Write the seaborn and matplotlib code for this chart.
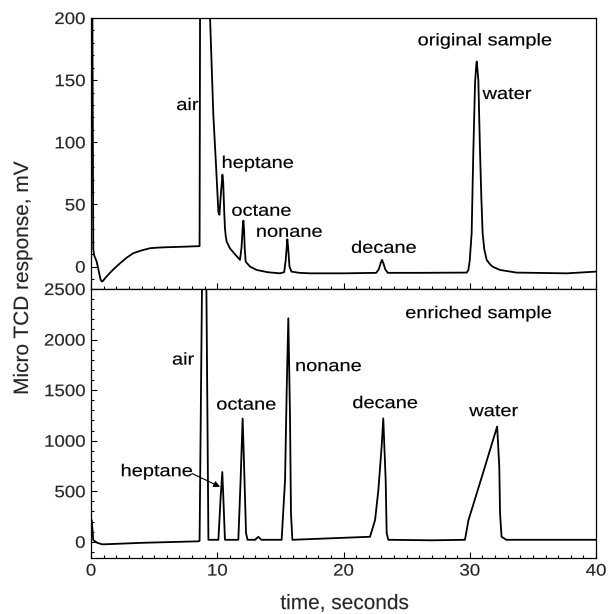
import numpy as np
import pandas as pd
import matplotlib
matplotlib.use("Agg")
import matplotlib.pyplot as plt
import seaborn as sns
from matplotlib.patheffects import AbstractPathEffect
from matplotlib.ticker import MultipleLocator
from matplotlib.transforms import Affine2D

# ---------------------------------------------------------------- data
# original sample trace: time (s) and detector response (mV)
orig_time = [0.10, 0.18, 0.25, 0.45, 0.60, 0.75, 0.85, 0.95, 1.10, 1.50,
             1.90, 2.30, 2.80, 3.35, 4.00, 4.67, 5.30, 6.00, 7.58, 8.60,
             8.65, 9.35, 9.43, 9.69, 9.90, 10.09, 10.17, 10.30, 10.41, 10.47,
             10.55, 10.61, 10.68, 10.75, 11.00, 11.40, 11.80, 11.92, 12.02, 12.07,
             12.12, 12.18, 12.25, 12.60, 13.13, 14.00, 14.97, 15.30, 15.42, 15.55,
             15.62, 15.72, 15.88, 16.50, 17.35, 20.00, 22.60, 22.80, 22.95, 23.05,
             23.15, 23.30, 23.50, 26.00, 29.76, 29.89, 30.00, 30.15, 30.28, 30.42,
             30.50, 30.55, 30.60, 30.68, 30.81, 30.92, 31.02, 31.15, 31.34, 31.60,
             31.80, 32.40, 33.70, 37.70, 40.00]
orig_mv = [230, 14, 9, 4, -3, -10, -12, -11.5, -9.5, -5,
           -1, 2.7, 7, 10.8, 13, 14.8, 15.3, 15.6, 16.1, 16.5,
           260, 260, 200, 122, 82, 44, 41.7, 60, 74, 68,
           45, 31, 24, 20, 14.8, 10, 5.4, 15, 32, 37,
           30, 14, 4, 0, -2.7, -4.5, -5.4, -4.5, 5, 22,
           15, 0, -4, -5, -5.4, -5.4, -5, -2, 3, 5.4,
           3, -2, -5, -5, -4.8, -2.7, 5, 27, 91, 148,
           160, 165, 160, 150, 94, 55, 27, 14, 5.4, 2,
           0, -2.7, -4.8, -5.4, -4]

# enriched sample trace: time (s) and detector response (mV)
enr_time = [0.00, 0.03, 0.10, 0.18, 0.50, 0.90, 2.00, 4.00, 8.50, 8.60,
            8.98, 9.30, 10.09, 10.27, 10.40, 10.48, 10.61, 11.67, 11.85, 12.01,
            12.12, 12.28, 12.40, 13.00, 13.25, 13.50, 15.10, 15.37, 15.50, 15.63,
            15.76, 15.84, 15.95, 22.10, 22.50, 22.76, 23.02, 23.15, 23.34, 23.42,
            23.55, 27.00, 29.62, 29.90, 31.00, 32.17, 32.34, 32.40, 32.52, 32.90,
            40.00]
enr_mv = [20, 220, 150, 17, -10, -25, -20, -10, 5, 10,
          5000, 20, 20, 445, 690, 445, 20, 20, 610, 1220,
          780, 86, 20, 20, 50, 20, 20, 610, 1500, 2210,
          1270, 280, 20, 50, 215, 510, 940, 1220, 610, 86,
          20, 15, 20, 215, 660, 1140, 742, 280, 50, 20,
          20]

# peak labels
orig_labels = ["air", "heptane", "octane", "nonane", "decane", "water"]
enr_labels = ["air", "octane", "nonane", "decane", "water"]

x_ticks = [0, 10, 20, 30, 40]
orig_y_ticks = [0, 50, 100, 150, 200]
enr_y_ticks = [0, 500, 1000, 1500, 2000, 2500]

# ------------------------------------------------------------- layout / style
orig_label_pos = [(7.64, 129.6), (13.2, 83.0), (13.5, 44.5), (15.7, 27.6),
                  (23.2, 14.7), (32.95, 138.5)]
enr_label_pos = [(7.3, 1797), (12.3, 1352), (18.8, 1733), (23.3, 1367),
                 (31.9, 1288)]


class WideText(AbstractPathEffect):
    """Draw text glyphs stretched horizontally about an anchor (0 left, 1 right),
    with a faint outline in the text colour to give a slightly heavier stroke."""

    def __init__(self, sx=1.25, anchor=0.5, stroke=0.12):
        super().__init__()
        self._sx = sx
        self._anchor = anchor
        self._stroke = stroke

    def draw_path(self, renderer, gc, tpath, affine, rgbFace=None):
        verts = tpath.vertices
        w = verts[:, 0].max() if len(verts) else 0.0
        shift = -(self._sx - 1.0) * w * self._anchor
        tr = Affine2D().scale(self._sx, 1.0).translate(shift, 0.0) + affine
        gc0 = renderer.new_gc()
        gc0.copy_properties(gc)
        gc0.set_linewidth(self._stroke)
        if rgbFace is not None:
            gc0.set_foreground(rgbFace)
        renderer.draw_path(gc0, tpath, tr, rgbFace)
        gc0.restore()


sns.set_style("ticks")
plt.rcParams["font.family"] = ["Liberation Sans", "DejaVu Sans"]
plt.rcParams["xtick.direction"] = "in"
plt.rcParams["ytick.direction"] = "in"

W, H = 608, 614
fig = plt.figure(figsize=(W / 100, H / 100), dpi=100)
left, right = 91, 596
ax1 = fig.add_axes([left / W, 1 - 289 / H, (right - left) / W, (289 - 18) / H])
ax2 = fig.add_axes([left / W, 1 - 558 / H, (right - left) / W, (558 - 289) / H])

orig_df = pd.DataFrame({"time": orig_time, "mv": orig_mv})
enr_df = pd.DataFrame({"time": enr_time, "mv": enr_mv})

sns.lineplot(data=orig_df, x="time", y="mv", ax=ax1, color="black",
             linewidth=1.3, estimator=None, sort=False)
sns.lineplot(data=enr_df, x="time", y="mv", ax=ax2, color="black",
             linewidth=1.3, estimator=None, sort=False)

ax1.set_xlim(0, 40)
ax2.set_xlim(0, 40)
ax1.set_ylim(-18, 200)
ax2.set_ylim(-160, 2500)

for ax in (ax1, ax2):
    ax.set_xlabel("")
    ax.set_ylabel("")
    ax.set_xticks(x_ticks)
    ax.xaxis.set_minor_locator(MultipleLocator(1))
    ax.tick_params(which="both", direction="in", top=False, right=False,
                   color="black", width=0.8)
    ax.tick_params(which="major", length=4.5, labelsize=12, pad=4.0)
    ax.tick_params(which="minor", length=2.2)
    for sp in ax.spines.values():
        sp.set_visible(True)
        sp.set_linewidth(0.9)
        sp.set_color("black")

ax1.set_yticks(orig_y_ticks)
ax1.yaxis.set_minor_locator(MultipleLocator(10))
ax2.set_yticks(enr_y_ticks)
ax2.yaxis.set_minor_locator(MultipleLocator(100))
ax1.tick_params(labelbottom=False)

for ax in (ax1, ax2):
    for lab in ax.get_yticklabels():
        lab.set_path_effects([WideText(1.12, 1.0)])
for lab in ax2.get_xticklabels():
    lab.set_path_effects([WideText(1.12, 0.5)])

txt_kw = dict(ha="center", va="center", fontsize=12.2, color="black",
              path_effects=[WideText(1.18, 0.5)])

for name, (tx, ty) in zip(orig_labels, orig_label_pos):
    ax1.text(tx, ty, name, **txt_kw)
ax1.text(31.2, 181.6, "original sample", **txt_kw)

for name, (tx, ty) in zip(enr_labels, enr_label_pos):
    ax2.text(tx, ty, name, **txt_kw)
ax2.text(30.7, 2257, "enriched sample", **txt_kw)

# heptane label with pointer to its small peak
ax2.text(5.2, 694, "heptane", **txt_kw)
ax2.annotate("", xy=(10.22, 544), xytext=(8.0, 676),
             arrowprops=dict(arrowstyle="-|>", color="black", lw=0.8,
                             shrinkA=0, shrinkB=0, mutation_scale=9))

fig.text(0.037, 0.547, "Micro TCD response, mV", rotation=90,
         ha="center", va="center", fontsize=15,
         path_effects=[WideText(1.0, 0.5, 0.1)])
fig.text(0.567, 0.017, "time, seconds", ha="center", va="center", fontsize=15,
         path_effects=[WideText(1.0, 0.5, 0.1)])

fig.savefig("out.png", dpi=100)
